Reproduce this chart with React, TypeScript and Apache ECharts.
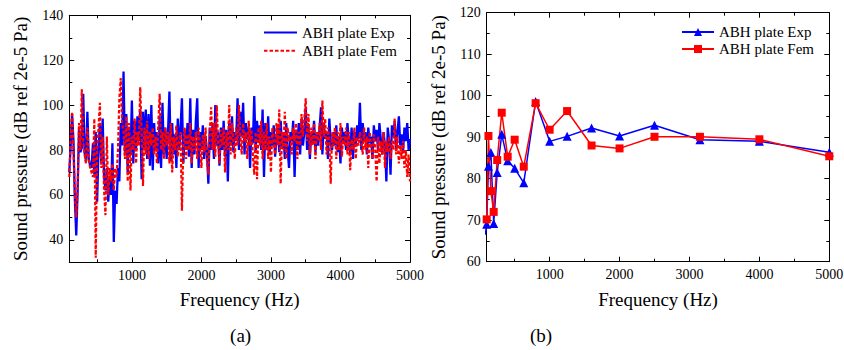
import React, { useEffect, useRef } from "react";
import * as echarts from "echarts";

// ---------- Panel (a): narrow-band spectrum ----------
const spectrumStartHz = 100;
const spectrumStepHz = 20;

const expSpectrum = [
  70, 82, 96, 84, 58, 42, 62, 90, 79, 81,
  105, 79, 75, 97, 76, 73, 72, 83, 69, 88,
  57, 80, 92, 74, 94, 68, 62, 72, 57, 68,
  60, 83, 39, 62, 56, 72, 66, 92, 82, 115,
  78, 96, 70, 90, 78, 102, 74, 93, 80, 95,
  84, 98, 67, 97, 80, 98, 76, 96, 73, 100,
  71, 92, 80, 88, 74, 95, 72, 101, 78, 90,
  76, 88, 106, 75, 92, 78, 87, 72, 94, 80,
  90, 103, 74, 88, 80, 92, 77, 103, 72, 89,
  78, 93, 103, 72, 88, 80, 91, 76, 86, 79,
  65, 90, 80, 92, 76, 100, 82, 88, 73, 90,
  80, 93, 77, 89, 66, 92, 82, 95, 79, 88,
  84, 103, 80, 97, 86, 101, 78, 92, 85, 90,
  72, 90, 83, 104, 79, 93, 84, 91, 80, 98,
  68, 92, 80, 95, 78, 88, 82, 91, 77, 86,
  90, 79, 93, 81, 87, 76, 92, 80, 72, 88,
  84, 93, 68, 89, 80, 92, 78, 94, 82, 88,
  99, 80, 91, 76, 88, 84, 93, 79, 87, 82,
  90, 99, 78, 92, 85, 88, 76, 94, 83, 80,
  88, 82, 91, 79, 86, 74, 90, 83, 88, 80,
  92, 84, 78, 90, 76, 88, 82, 91, 85, 101,
  80, 92, 84, 88, 78, 90, 83, 86, 76, 91,
  84, 89, 80, 92, 85, 78, 88, 82, 66, 90,
  84, 69, 91, 86, 93, 80, 88, 95, 82, 87,
  79, 90, 84, 92, 80, 85,
];

const femSpectrum = [
  68, 86, 97, 80, 60, 50, 63, 92, 80, 107,
  84, 78, 74, 90, 76, 72, 70, 68, 94, 32,
  80, 90, 101, 72, 86, 62, 51, 86, 60, 72,
  66, 74, 62, 72, 68, 80, 103, 112, 92, 88,
  76, 95, 66, 92, 62, 86, 80, 94, 74, 88,
  82, 108, 88, 64, 90, 78, 93, 76, 88, 82,
  90, 78, 86, 74, 92, 105, 80, 88, 76, 90,
  82, 88, 74, 92, 70, 86, 80, 91, 77, 84,
  88, 53, 82, 90, 76, 87, 80, 92, 74, 86,
  80, 88, 76, 90, 82, 72, 87, 79, 90, 75,
  69, 88, 99, 80, 92, 77, 100, 84, 74, 89,
  82, 90, 70, 88, 80, 100, 78, 92, 84, 76,
  90, 82, 100, 86, 78, 92, 84, 88, 76, 93,
  82, 89, 78, 69, 88, 67, 90, 82, 93, 76,
  88, 80, 92, 76, 86, 70, 90, 84, 78, 92,
  82, 98, 65, 88, 80, 97, 76, 90, 84, 86,
  78, 90, 84, 92, 76, 88, 82, 96, 86, 94,
  103, 84, 96, 78, 90, 82, 92, 76, 88, 84,
  92, 80, 102, 86, 94, 78, 90, 84, 65, 88,
  82, 90, 76, 88, 80, 92, 77, 86, 82, 90,
  78, 88, 71, 85, 80, 90, 76, 86, 82, 88,
  84, 78, 90, 80, 86, 72, 88, 82, 76, 87,
  80, 66, 86, 74, 84, 78, 88, 72, 84, 79,
  86, 76, 84, 80, 94, 78, 86, 74, 82, 76,
  84, 72, 80, 68, 78, 66,
];

// ---------- Panel (b): one-third octave bands ----------
const bandFreqs = [80, 100, 125, 160, 200, 250, 315, 400, 500, 630, 800, 1000, 1250, 1600, 2000, 2500, 3150, 4000, 5000];
const expBands = [66.5, 69, 83, 86.3, 69.2, 81.5, 90.7, 84.3, 82.5, 79, 98.6, 89, 90.2, 92.2, 90.3, 92.9, 89.4, 89.0, 86.4];
const femBands = [67.8, 70.2, 90.3, 77, 72, 84.5, 95.9, 85.3, 89.4, 82.9, 98.2, 91.8, 96.3, 88, 87.3, 90.1, 90.1, 89.5, 85.4];

// ---------- Ticks ----------
const xMajorTicks = [1000, 2000, 3000, 4000, 5000];
const xMinorTicks = [500, 1500, 2500, 3500, 4500];
const yMajorTicksA = [40, 60, 80, 100, 120, 140];
const yMinorTicksA = [50, 70, 90, 110, 130];
const yMajorTicksB = [60, 70, 80, 90, 100, 110, 120];
const yMinorTicksB = [65, 75, 85, 95, 105, 115];

const xTitle = "Frequency (Hz)";
const yTitle = "Sound pressure (dB ref 2e-5 Pa)";

const legendLabels: Record<string, string> = {
  aExp: "ABH plate Exp",
  aFem: "ABH plate Fem",
  bExp: "ABH plate Exp",
  bFem: "ABH plate Fem",
};

const FONT = "Liberation Serif";
const BLUE = "#0000ff";
const RED = "#ff0000";

function makeAxes(
  dir: "x" | "y",
  gridMain: number,
  gridMinor: number,
  min: number,
  max: number,
  major: number[],
  minor: number[]
) {
  const posA = dir === "x" ? "bottom" : "left";
  const posB = dir === "x" ? "top" : "right";
  const base = { type: "value", min, max, splitLine: { show: false }, axisLabel: { show: false } };
  const line = { show: true, onZero: false, lineStyle: { color: "#000", width: 1 } };
  const tick = (vals: number[], len: number) => ({
    show: true,
    inside: true,
    length: len,
    customValues: vals,
    lineStyle: { color: "#000" },
  });
  return [
    { ...base, gridIndex: gridMain, position: posA, axisLine: line, axisTick: tick(major, 5) },
    { ...base, gridIndex: gridMain, position: posB, axisLine: line, axisTick: tick(major, 5) },
    { ...base, gridIndex: gridMinor, position: posA, axisLine: { show: false }, axisTick: tick(minor, 3) },
    { ...base, gridIndex: gridMinor, position: posB, axisLine: { show: false }, axisTick: tick(minor, 3) },
  ];
}

export default function App() {
  const ref = useRef<HTMLDivElement>(null);

  useEffect(() => {
    if (!ref.current) return;
    const chart = echarts.init(ref.current, undefined, { renderer: "svg" });

    const expPairs = expSpectrum.map((v, i) => [spectrumStartHz + i * spectrumStepHz, v]);
    const femPairs = femSpectrum.map((v, i) => [spectrumStartHz + i * spectrumStepHz, v]);
    const expBandPairs = bandFreqs.map((f, i) => [f, expBands[i]]);
    const femBandPairs = bandFreqs.map((f, i) => [f, femBands[i]]);

    const gridA = { left: 69.3, top: 15.3, width: 340.7, height: 247, show: false };
    const gridB = { left: 486.7, top: 12.7, width: 342.6, height: 249, show: false };

    const option: any = {
      animation: false,
      backgroundColor: "#fff",
      grid: [gridA, { ...gridA }, gridB, { ...gridB }],
      xAxis: [
        ...makeAxes("x", 0, 1, 100, 5000, xMajorTicks, xMinorTicks),
        ...makeAxes("x", 2, 3, 100, 5000, xMajorTicks, xMinorTicks),
      ],
      yAxis: [
        ...makeAxes("y", 0, 1, 30, 140, yMajorTicksA, yMinorTicksA),
        ...makeAxes("y", 2, 3, 60, 120, yMajorTicksB, yMinorTicksB),
      ],
      legend: [
        {
          data: ["aExp", "aFem"],
          orient: "vertical",
          left: 263,
          top: 25,
          padding: 0,
          itemWidth: 33,
          itemHeight: 10,
          itemGap: 3.3,
          itemTextGap: 4,
          selectedMode: false,
          itemStyle: { opacity: 0 },
          formatter: (n: string) => legendLabels[n],
          textStyle: { color: "#000", fontFamily: FONT, fontSize: 15 },
        },
        {
          data: ["bExp", "bFem"],
          orient: "vertical",
          left: 681,
          top: 24.5,
          padding: 0,
          itemWidth: 32,
          itemHeight: 10,
          itemGap: 2,
          itemTextGap: 6,
          selectedMode: false,
          formatter: (n: string) => legendLabels[n],
          textStyle: { color: "#000", fontFamily: FONT, fontSize: 15 },
        },
      ],
      series: [
        {
          name: "aExp",
          type: "line",
          xAxisIndex: 0,
          yAxisIndex: 0,
          data: expPairs,
          symbol: "none",
          showSymbol: false,
          color: BLUE,
          lineStyle: { color: BLUE, width: 2.3 },
          clip: true,
        },
        {
          name: "aFem",
          type: "line",
          xAxisIndex: 0,
          yAxisIndex: 0,
          data: femPairs,
          symbol: "none",
          showSymbol: false,
          color: RED,
          lineStyle: { color: RED, width: 2.2, type: [3.5, 2] },
          clip: true,
        },
        {
          name: "bExp",
          type: "line",
          xAxisIndex: 4,
          yAxisIndex: 4,
          data: expBandPairs,
          symbol: "triangle",
          symbolSize: 9,
          color: BLUE,
          itemStyle: { color: BLUE },
          lineStyle: { color: BLUE, width: 1.5 },
          clip: true,
        },
        {
          name: "bFem",
          type: "line",
          xAxisIndex: 4,
          yAxisIndex: 4,
          data: femBandPairs,
          symbol: "rect",
          symbolSize: 8,
          color: RED,
          itemStyle: { color: RED },
          lineStyle: { color: RED, width: 1.5 },
          clip: true,
        },
      ],
    };

    chart.setOption(option);

    // Axis labels and titles as serif texts, positioned with the chart's own scales.
    const txt = (text: string, x: number, y: number, size: number, align: string, vAlign: string, rotation = 0) => ({
      type: "text",
      x,
      y,
      rotation,
      silent: true,
      style: { text, fill: "#000", fontFamily: FONT, fontSize: size, align, verticalAlign: vAlign },
    });

    const panels = [
      { xi: 0, yi: 0, xMin: 100, xMax: 5000, yMin: 30, yMax: 140, yTicks: yMajorTicksA, yGap: 39.5, tag: "(a)" },
      { xi: 4, yi: 4, xMin: 100, xMax: 5000, yMin: 60, yMax: 120, yTicks: yMajorTicksB, yGap: 39, tag: "(b)" },
    ];
    const els: any[] = [];
    panels.forEach((p) => {
      const finder = { xAxisIndex: p.xi, yAxisIndex: p.yi };
      const [x0, yBottom] = chart.convertToPixel(finder, [p.xMin, p.yMin]) as number[];
      const [x1, yTop] = chart.convertToPixel(finder, [p.xMax, p.yMax]) as number[];
      xMajorTicks.forEach((v) => {
        const [px] = chart.convertToPixel(finder, [v, p.yMin]) as number[];
        els.push(txt(String(v), px, yBottom + 6, 14, "center", "top"));
      });
      p.yTicks.forEach((v) => {
        const [, py] = chart.convertToPixel(finder, [p.xMin, v]) as number[];
        els.push(txt(String(v), x0 - 6, py, 14, "right", "middle"));
      });
      const cx = (x0 + x1) / 2;
      els.push(txt(xTitle, cx, yBottom + 28, 19, "center", "top"));
      els.push(txt(yTitle, x0 - p.yGap - 9.5, (yTop + yBottom) / 2, 19, "center", "middle", Math.PI / 2));
      els.push(txt(p.tag, cx + (p.tag === "(b)" ? -117 : 1), 335, 19, "center", "middle"));
    });
    chart.setOption({ graphic: els });

    return () => chart.dispose();
  }, []);

  return (
    <div
      ref={ref}
      style={{ position: "absolute", left: 0, top: 0, width: 844, height: 350, background: "#fff" }}
    />
  );
}
